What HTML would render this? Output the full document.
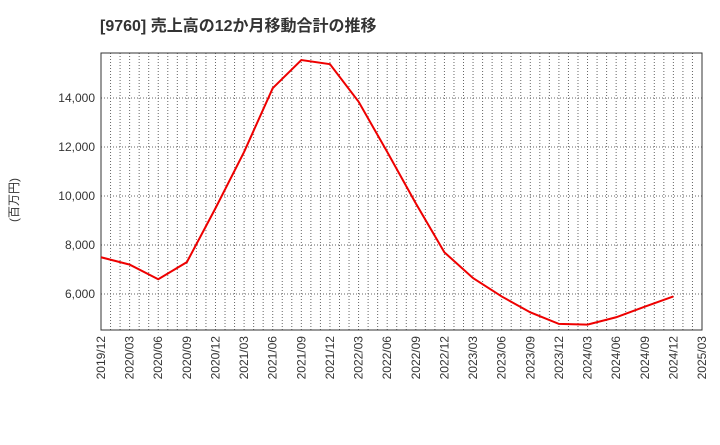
<!DOCTYPE html>
<html><head><meta charset="utf-8"><style>
body{margin:0;background:#fff;font-family:"Liberation Sans","Noto Sans CJK JP",sans-serif;}
</style></head><body>
<svg width="720" height="440" xmlns="http://www.w3.org/2000/svg">
<text x="100" y="31" font-size="16" font-weight="bold" fill="#333" font-family="Liberation Sans, Noto Sans CJK JP, sans-serif">[9760]  売上高の12か月移動合計の推移</text>
<text transform="translate(18,200) rotate(-90)" font-size="12" fill="#333" text-anchor="middle" font-family="Liberation Sans, Noto Sans CJK JP, sans-serif">(百万円)</text>
<g id="grid"></g><g id="axes"></g>
<rect x="101" y="53" width="601" height="277" fill="none" stroke="#333"/>
<polyline id="line" fill="none" stroke="#e00" stroke-width="2"/>
</svg>
<script>
const categories=["2019/12","2020/03","2020/06","2020/09","2020/12","2021/03","2021/06","2021/09","2021/12","2022/03","2022/06","2022/09","2022/12","2023/03","2023/06","2023/09","2023/12","2024/03","2024/06","2024/09","2024/12","2025/03"];
const values=[7500,7200,6600,7300,9500,11800,14400,15550,15380,13850,11800,9700,7700,6650,5900,5250,4780,4750,5050,5480,5900];
const yTicks=[6000,8000,10000,12000,14000];
const yTickLabels=["6,000","8,000","10,000","12,000","14,000"];
const X0=101,X1=702,Y0=330,Y1=53,YMIN=4530,YMAX=15837;
const xs=i=>X0+(X1-X0)*i/(categories.length-1);
const ys=v=>Y0-(v-YMIN)/(YMAX-YMIN)*(Y0-Y1);
const NS="http://www.w3.org/2000/svg";
const grid=document.getElementById('grid'),axes=document.getElementById('axes');
function mk(tag,attrs,parent){const e=document.createElementNS(NS,tag);for(const k in attrs)e.setAttribute(k,attrs[k]);parent.appendChild(e);return e;}
const months=(categories.length-1)*3;
for(let m=1;m<months;m++){
 const x=xs(m/3);
 const g=mk('line',{x1:x,x2:x,y1:Y1,y2:Y0,stroke:'#666','stroke-dasharray':'1,2','stroke-width':1},grid);
 
 
}
categories.forEach((c,i)=>{
 const x=xs(i);
 const t=mk('text',{transform:`translate(${x+4},${Y0+6}) rotate(-90)`,'font-size':12,fill:'#333','text-anchor':'end'},axes);
 t.textContent=c;
 
 
});
yTicks.forEach((v,i)=>{
 const y=ys(v);
 const g=mk('line',{x1:X0,x2:X1,y1:y,y2:y,stroke:'#666','stroke-dasharray':'1,2','stroke-width':1},grid);
 
 
 const t=mk('text',{x:X0-6,y:y+4,'font-size':12,fill:'#333','text-anchor':'end'},axes);
 t.textContent=yTickLabels[i];
 
 
});
document.getElementById('line').setAttribute('points',values.map((v,i)=>xs(i)+','+ys(v)).join(' '));
</script>
</body></html>
